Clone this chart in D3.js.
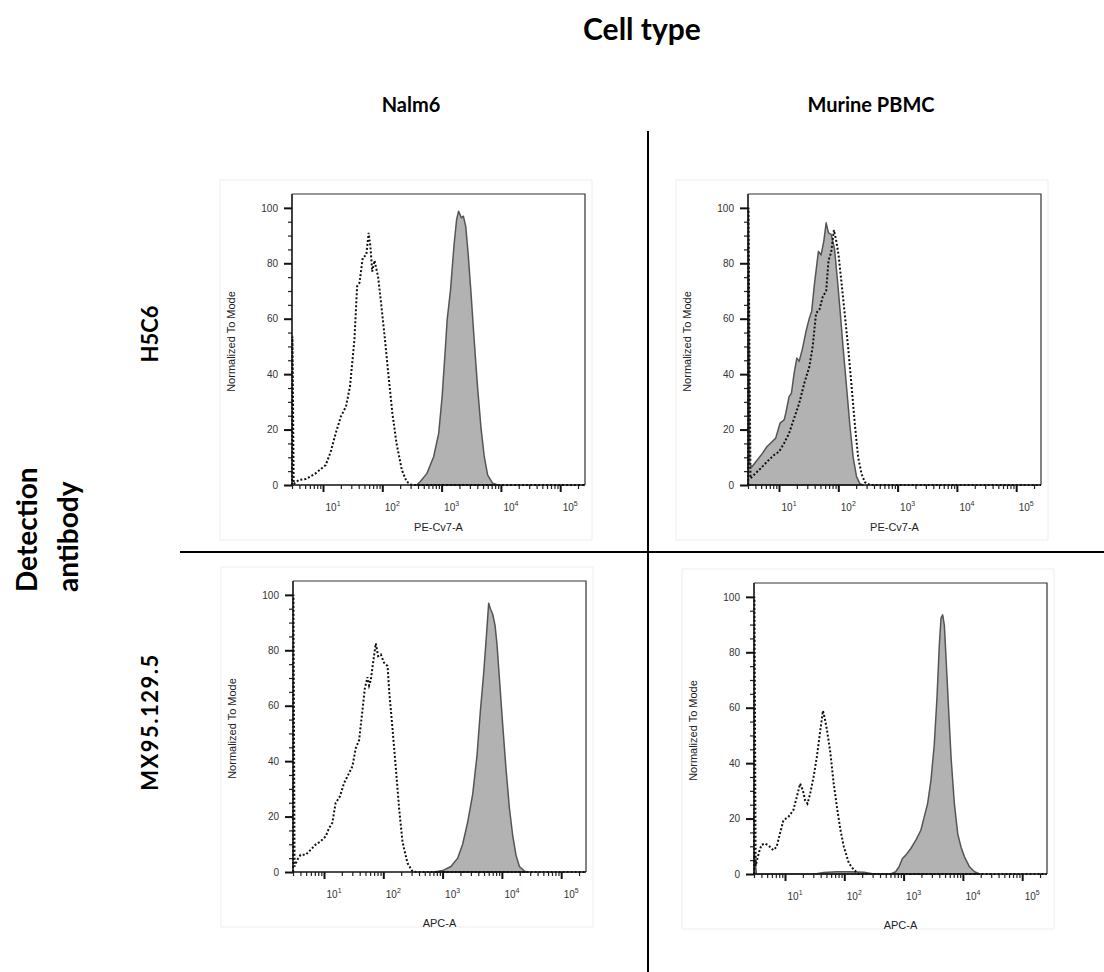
<!DOCTYPE html>
<html>
<head>
<meta charset="utf-8">
<script src="https://cdn.jsdelivr.net/npm/d3@7"></script>
<style>
  body { margin: 0; background: #fff; }
  svg { display: block; }
  .hdr { font-family: Lato, "Open Sans", sans-serif; font-weight: 700; fill: #000; }
  .ax-title { font-family: "Liberation Sans", Arial, sans-serif; font-size: 11px; fill: #222; }
</style>
</head>
<body>
<svg id="fig" width="1104" height="972"></svg>
<script>
// labels
const figTitle = 'Cell type';
const rowTitle = ['Detection', 'antibody'];
const cellTypes = ['Nalm6', 'Murine PBMC'];
const antibodies = ['H5C6', 'MX95.129.5'];
const channels = ['PE-Cv7-A', 'APC-A'];
const yLabel = 'Normalized To Mode';
const yTicks = [0, 20, 40, 60, 80, 100];
const xDecades = [10, 100, 1000, 10000, 100000];
const xDomain = [3, 262144];
const yDomain = [0, 105];

// histograms: [intensity, % of mode]
// dotted = unstained / control, filled = stained
const nalm6H5C6Control = [[3.02,0],[3.05,53.6],[3.2,0.4],[3.9,1.8],[5.2,2.2],[7.5,4.2],[11.1,7.2],[13.5,12],[16.4,18.7],[20,24.7],[24.4,28.3],[28.5,35.5],[33.9,52.4],[37.6,71.7],[41.2,72.9],[46.8,82],[53.7,83],[58.9,91],[63.1,86],[67.6,77],[74.1,81],[85.1,75],[96.6,64.5],[109.6,53.6],[125.9,40.4],[147.9,25.9],[173.8,15],[213.8,5.4],[257,1.2],[316,0],[262144,0]];
const nalm6H5C6Stained = [[382,0],[435,1.2],[566,4.2],[735,10.2],[895,18.7],[1021,31.9],[1163,50],[1241,59.6],[1416,70.5],[1614,86.1],[1791,95.8],[1937,98.8],[2042,97.6],[2153,96.4],[2328,97],[2552,93.3],[2798,83.7],[3105,70.5],[3540,52.4],[4036,35.5],[4601,21],[5248,10.2],[5984,3.6],[7278,0.6],[8852,0]];

const pbmcH5C6Control = [[3.02,0],[3.05,100],[3.3,2.4],[4.0,4.2],[4.9,6.0],[6.3,8.4],[8.2,10.8],[10,12],[12.2,15.1],[14.8,18.7],[18,24.1],[21.9,29.5],[26.7,36.7],[32.5,42.7],[37,50],[42.2,62],[48.1,63.3],[54.8,68],[62.4,70],[68.4,81],[75.9,84],[84.3,92],[92.5,88],[101,83],[112,74],[128,62],[146,50],[167,36],[190,22],[216,10],[247,4],[281,1],[342,0],[262144,0]];
const pbmcH5C6Stained = [[3.05,100],[3.2,7.5],[3.5,6.6],[4.3,9.0],[5.0,10.8],[6.3,13.9],[7.7,15.7],[8.8,16.9],[10.4,22.3],[12.2,23.5],[13,25.9],[14.8,31.9],[16.2,33.1],[18,40.4],[20,45.8],[21.9,44.6],[25,49.4],[28.5,55.4],[32.5,60.2],[35.6,62.7],[39.5,72.3],[46.2,84.3],[51.3,83],[57,88],[62.4,94.6],[68.4,91],[75.9,90.4],[86.6,85],[98.6,72],[108,62],[120,50],[137,36],[156,22],[178,10],[203,3],[231,0.5],[263,0]];

const nalm6MX95Control = [[3.02,0],[3.05,100],[3.19,2.0],[3.54,4.4],[4.03,6.2],[4.9,6.2],[5.96,8.0],[7.23,9.9],[8.8,11.1],[10.7,12.9],[12.2,15.9],[13.8,17.7],[15.7,24.9],[18.6,27.3],[21.8,32.1],[26.5,35.7],[30.1,38.1],[34.3,44.6],[39.1,47.6],[44.5,58.3],[48.7,66.1],[54,70.3],[57.6,67.3],[61.5,69.2],[68.2,76.5],[74.7,82.5],[81.8,77.9],[90.8,78.5],[103,75.5],[118,74.3],[126,64.9],[143,51.7],[163,37.3],[185,22.8],[211,10.8],[256,3.2],[311,0.2],[378,0],[262144,0]];
const nalm6MX95Stained = [[723,0],[1000,0.5],[1384,2],[1795,5],[2179,10],[2648,18],[3215,28],[3804,42],[4333,58],[4940,72],[5475,85],[5991,97],[6390,95],[7003,93],[7670,89],[8283,82],[9074,70],[10330,53],[11754,37],[13397,23],[15245,13],[17339,6],[19770,2],[23990,0.3],[27000,0]];

const pbmcMX95Control = [[3.02,0],[3.05,100],[3.2,3],[3.66,8],[4.02,10.5],[4.58,11],[5.21,10.4],[6.34,8.6],[7.22,9.8],[8.22,14.6],[9.4,19.4],[11.4,20.6],[13.8,23],[15.8,27.8],[18,32.6],[20,30.2],[21.8,26.6],[23.9,25.4],[26.6,29],[30.3,35],[34.4,42.2],[39.3,51.7],[43.6,58.9],[46.5,56.5],[51,52],[58,44],[66,33],[75.3,24],[85.9,16],[97.8,10],[119,4],[144,1.5],[176,0],[262144,0]];
const pbmcMX95Stained = [[3.05,7.4],[3.3,0],[32,0],[44.8,0.5],[75,0.8],[127,0.8],[214,0.6],[316,0],[605,0],[736,0.8],[839,2.6],[955,5.6],[1089,6.8],[1324,9.2],[1610,12.2],[1955,15.8],[2228,20.6],[2541,25.4],[2893,33.8],[3297,46.9],[3658,63.7],[4009,82.8],[4276,92.3],[4563,93.5],[4867,89.8],[5200,77.8],[5693,61.1],[6324,41.9],[7197,25.1],[8204,14.4],[9333,9.6],[10646,6.2],[12942,2.6],[15740,0.8],[19098,0]];

const W = 293, H = 291;
const panels = [
  {left: 292, top: 194, row: 0, control: nalm6H5C6Control, stained: nalm6H5C6Stained},
  {left: 748, top: 194, row: 0, control: pbmcH5C6Control, stained: pbmcH5C6Stained},
  {left: 293, top: 581, row: 1, control: nalm6MX95Control, stained: nalm6MX95Stained},
  {left: 754, top: 583, row: 1, control: pbmcMX95Control, stained: pbmcMX95Stained}
];

const svg = d3.select('#fig');

// minor log ticks 2..9 per decade
const xMinor = [];
[1, 10, 100, 1000, 10000, 100000].forEach(dec => {
  [2,3,4,5,6,7,8,9].forEach(k => {
    const v = dec * k;
    if (v >= xDomain[0] && v <= xDomain[1]) xMinor.push(v);
  });
});
const yMinor = d3.range(0, 101, 5).filter(v => v % 20 !== 0);

function drawPanel(p) {
  const g = svg.append('g').attr('transform', `translate(${p.left},${p.top})`);
  const x = d3.scaleLog().domain(xDomain).range([0, W]);
  const y = d3.scaleLinear().domain(yDomain).range([H, 0]);

  // faint border of the exported plot image
  g.append('rect').attr('x', -72).attr('y', -14).attr('width', 372).attr('height', 360)
    .attr('fill', 'none').attr('stroke', '#eeeeee');

  const area = d3.area().x(d => x(d[0])).y0(H).y1(d => y(d[1]));
  g.append('path').datum(p.stained).attr('d', area)
    .attr('fill', '#b2b2b2').attr('stroke', '#555').attr('stroke-width', 1.5).attr('stroke-linejoin', 'round');

  const line = d3.line().x(d => x(d[0])).y(d => y(d[1]));
  g.append('path').datum(p.control).attr('d', line)
    .attr('fill', 'none').attr('stroke', '#111').attr('stroke-width', 2)
    .attr('stroke-dasharray', '2,2');

  // top / right frame
  g.append('path').attr('d', `M0,0H${W}V${H}`).attr('fill', 'none')
    .attr('stroke', '#333').attr('stroke-width', 1.2);

  // y axis
  const gy = g.append('g')
    .call(d3.axisLeft(y).tickValues(yMinor).tickSize(4).tickSizeOuter(0).tickFormat(''));
  gy.select('.domain').remove();
  gy.selectAll('.tick line').attr('stroke', '#222').attr('stroke-width', 1.2);

  const gyM = g.append('g')
    .call(d3.axisLeft(y).tickValues(yTicks).tickSize(8).tickPadding(6).tickSizeOuter(0).tickFormat(d3.format('d')));
  gyM.select('.domain').attr('d', `M0,${H}V0`).attr('stroke', '#111').attr('stroke-width', 1.6);
  gyM.selectAll('.tick line').attr('stroke', '#111').attr('stroke-width', 2);
  gyM.selectAll('.tick text').attr('font-family', '"Liberation Sans", Arial, sans-serif')
    .attr('font-size', 10).attr('fill', '#333');

  // x axis
  const gx = g.append('g').attr('transform', `translate(0,${H})`)
    .call(d3.axisBottom(x).tickValues(xMinor).tickSize(4).tickSizeOuter(0).tickFormat(''));
  gx.select('.domain').remove();
  gx.selectAll('.tick line').attr('stroke', '#222').attr('stroke-width', 1.2);

  const gxM = g.append('g').attr('transform', `translate(0,${H})`)
    .call(d3.axisBottom(x).tickValues(xDecades).tickSize(7).tickSizeOuter(0).tickFormat(d => d));
  gxM.select('.domain').attr('d', `M0,0H${W}`).attr('stroke', '#111').attr('stroke-width', 1.6);
  gxM.selectAll('.tick line').attr('stroke', '#111').attr('stroke-width', 2);
  gxM.selectAll('.tick text')
    .attr('font-family', '"Liberation Sans", Arial, sans-serif').attr('font-size', 10).attr('fill', '#333')
    .attr('x', 2).attr('y', 26).attr('dy', null).attr('text-anchor', 'start')
    .text(null)
    .each(function(d) {
      const t = d3.select(this);
      t.append('tspan').text('10');
      t.append('tspan').attr('dy', -5).attr('font-size', 7).text(Math.round(Math.log10(d)));
    });

  // axis titles
  g.append('text').attr('class', 'ax-title').attr('text-anchor', 'middle')
    .attr('x', W / 2).attr('y', H + (p.row === 0 ? 46 : 55))
    .text(channels[p.row]);
  g.append('text').attr('class', 'ax-title').attr('text-anchor', 'middle')
    .attr('transform', `translate(-57,${H / 2 + 2}) rotate(-90)`)
    .text(yLabel);
}

panels.forEach(drawPanel);

// headers
svg.append('text').attr('class', 'hdr').attr('font-size', 30).attr('text-anchor', 'middle')
  .attr('x', 642).attr('y', 40).text(figTitle);
[411, 871].forEach((cx, i) => {
  svg.append('text').attr('class', 'hdr').attr('font-size', 20).attr('text-anchor', 'middle')
    .attr('x', cx).attr('y', 112).text(cellTypes[i]);
});
[334, 722].forEach((cy, i) => {
  svg.append('text').attr('class', 'hdr').attr('font-size', 22).attr('text-anchor', 'middle')
    .attr('letter-spacing', i === 1 ? 1.5 : 0)
    .attr('transform', `translate(158,${cy}) rotate(-90)`).text(antibodies[i]);
});
[37, 78].forEach((bx, i) => {
  svg.append('text').attr('class', 'hdr').attr('font-size', 28).attr('text-anchor', 'start')
    .attr('transform', `translate(${bx},592) rotate(-90)`).text(rowTitle[i]);
});

// quadrant dividers
svg.append('line').attr('x1', 648).attr('x2', 648).attr('y1', 131).attr('y2', 972)
  .attr('stroke', '#000').attr('stroke-width', 2);
svg.append('line').attr('x1', 180).attr('x2', 1104).attr('y1', 552).attr('y2', 552)
  .attr('stroke', '#000').attr('stroke-width', 2);
</script>
</body>
</html>
